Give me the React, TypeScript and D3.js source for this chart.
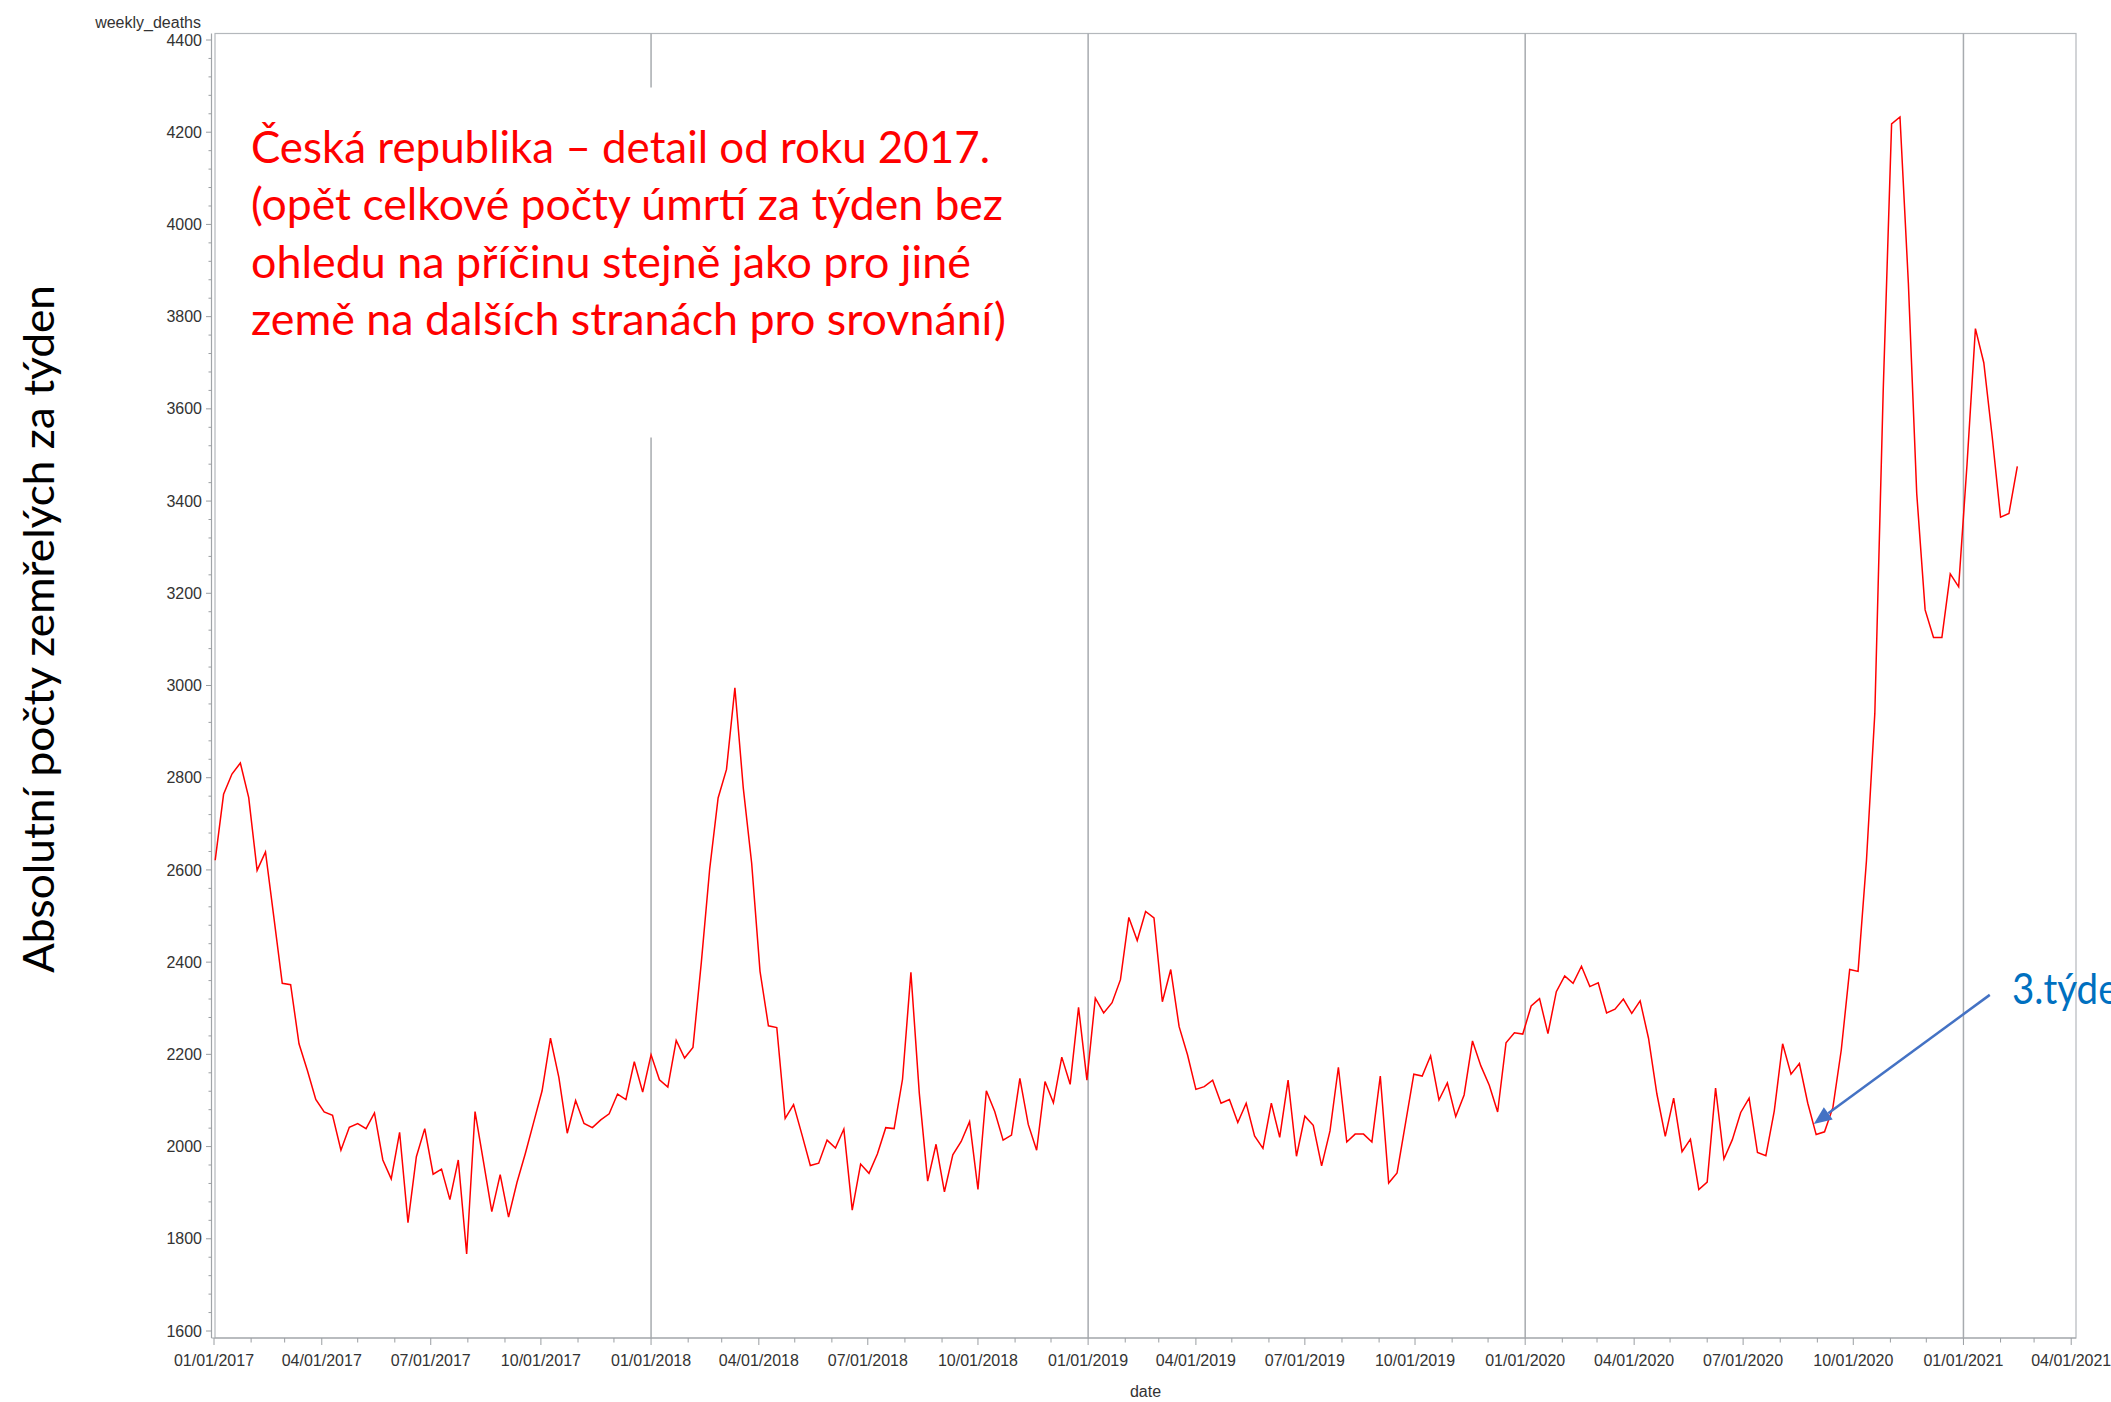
import React from 'react';
import * as d3 from 'd3';

// ---------- DATA ----------
const firstWeek = '2017-01-02';
const weeklyDeaths: number[] = [
  2621, 2764, 2808, 2832, 2757, 2599, 2639, 2497, 2354, 2351,
  2223, 2165, 2102, 2075, 2068, 1992, 2042, 2050, 2039, 2073,
  1971, 1930, 2031, 1835, 1978, 2039, 1940, 1951, 1885, 1971,
  1767, 2076, 1968, 1859, 1939, 1847, 1922, 1985, 2053, 2121,
  2235, 2150, 2029, 2100, 2050, 2041, 2058, 2071, 2114, 2102,
  2184, 2118, 2199, 2145, 2129, 2230, 2192, 2215, 2400, 2603,
  2756, 2818, 2995, 2778, 2615, 2380, 2262, 2258, 2061, 2091,
  2026, 1959, 1964, 2014, 1997, 2038, 1862, 1962, 1942, 1984,
  2041, 2039, 2146, 2378, 2116, 1925, 2005, 1902, 1982, 2011,
  2054, 1907, 2121, 2076, 2014, 2025, 2148, 2048, 1992, 2141,
  2095, 2194, 2135, 2302, 2144, 2322, 2290, 2312, 2362, 2497,
  2447, 2510, 2496, 2314, 2384, 2260, 2199, 2124, 2130, 2144,
  2094, 2102, 2052, 2094, 2023, 1996, 2094, 2020, 2144, 1979,
  2066, 2046, 1958, 2034, 2172, 2010, 2027, 2027, 2010, 2153,
  1921, 1943, 2050, 2157, 2153, 2197, 2101, 2138, 2065, 2112,
  2229, 2175, 2133, 2075, 2225, 2247, 2244, 2305, 2321, 2245,
  2336, 2370, 2354, 2391, 2347, 2355, 2290, 2298, 2320, 2289,
  2316, 2235, 2114, 2022, 2105, 1989, 2016, 1907, 1923, 2127,
  1973, 2015, 2074, 2105, 1987, 1980, 2077, 2223, 2157, 2180,
  2094, 2026, 2032, 2085, 2210, 2384, 2380, 2620, 2940, 3640,
  4218, 4233, 3873, 3416, 3164, 3104, 3104, 3242, 3214, 3480,
  3774, 3700, 3540, 3365, 3373, 3475,
];

const yTickValues = [1600, 1800, 2000, 2200, 2400, 2600, 2800, 3000, 3200, 3400, 3600, 3800, 4000, 4200, 4400];
const xTickLabels = [
  '01/01/2017', '04/01/2017', '07/01/2017', '10/01/2017',
  '01/01/2018', '04/01/2018', '07/01/2018', '10/01/2018',
  '01/01/2019', '04/01/2019', '07/01/2019', '10/01/2019',
  '01/01/2020', '04/01/2020', '07/01/2020', '10/01/2020',
  '01/01/2021', '04/01/2021',
];
const referenceLineDates = ['2018-01-01', '2019-01-01', '2020-01-01', '2021-01-01'];
const noteLines = [
  'Česká republika – detail od roku 2017.',
  '(opět celkové počty úmrtí za týden bez',
  'ohledu na příčinu stejně jako pro jiné',
  'země na dalších stranách pro srovnání)',
];
const noteLineWidths = [739, 752, 720, 755];
const yAxisTitle = 'Absolutní počty zemřelých za týden';
const yVariableLabel = 'weekly_deaths';
const xVariableLabel = 'date';
const arrowLabel = '3.týden';
const arrowFrom = { date: '2021-01-23', value: 2329 };
const arrowTo = { date: '2020-08-29', value: 2049 };

// ---------- SCALES ----------
const parseIso = d3.timeParse('%Y-%m-%d');
const parseUs = d3.timeParse('%m/%d/%Y');
const start = parseIso(firstWeek) as Date;
const series = weeklyDeaths.map((v, i) => ({ date: d3.timeDay.offset(start, i * 7), value: v }));

const W = 2111;
const H = 1402;
const wallLeft = 215;
const wallRight = 2076;
const wallTop = 33.5;
const wallBottom = 1338;
const axisX = 211.5;

const x = d3.scaleTime()
  .domain([new Date(2017, 0, 1), new Date(2021, 3, 5)])
  .range([214, 2076]);
const y = d3.scaleLinear().domain([1600, 4400]).range([1331, 40]);

const line = d3.line<{ date: Date; value: number }>()
  .x(d => x(d.date))
  .y(d => y(d.value));

const minorMonths = d3.timeMonth.range(new Date(2017, 0, 1), new Date(2021, 3, 2));
const minorY = d3.range(1600, 4401, 40);

export default function App() {
  const axisFont = '"Liberation Sans", Arial, sans-serif';
  const noteFont = 'Lato, "Open Sans", sans-serif';

  // arrow geometry from data coords
  const x0 = x(parseIso(arrowFrom.date) as Date);
  const y0 = y(arrowFrom.value);
  const x1 = x(parseIso(arrowTo.date) as Date);
  const y1 = y(arrowTo.value);
  const dx = x1 - x0, dy = y1 - y0;
  const len = Math.hypot(dx, dy);
  const ux = dx / len, uy = dy / len;
  const headL = 18, headW = 7.5;
  const bx = x1 - ux * headL, by = y1 - uy * headL;
  const nx = -uy, ny = ux;
  const head = `M${x1},${y1}L${bx + nx * headW},${by + ny * headW}L${bx - nx * headW},${by - ny * headW}Z`;

  return (
    <div style={{ position: 'absolute', left: 0, top: 0, width: W, height: H, background: '#fff' }}>
      <svg width={W} height={H} style={{ display: 'block' }}>
        <rect x={0} y={0} width={W} height={H} fill="#fff" />

        {/* wall frame */}
        <rect x={wallLeft} y={wallTop} width={wallRight - wallLeft} height={wallBottom - wallTop}
          fill="none" stroke="#b4b8bc" strokeWidth={1.2} />

        {/* reference lines */}
        {referenceLineDates.map(d => {
          const xx = x(parseIso(d) as Date);
          return <line key={d} x1={xx} x2={xx} y1={wallTop} y2={wallBottom} stroke="#a7abaf" strokeWidth={1.5} />;
        })}

        {/* y axis */}
        <line x1={axisX} x2={axisX} y1={wallTop} y2={wallBottom} stroke="#a0a4a8" strokeWidth={1.2} />
        {minorY.map(v => (
          <line key={'my' + v} x1={axisX - (v % 200 === 0 ? 5.5 : 3)} x2={axisX} y1={y(v)} y2={y(v)}
            stroke="#9a9ea2" strokeWidth={1} />
        ))}
        {yTickValues.map(v => (
          <text key={'yl' + v} x={202} y={y(v)} dy="0.35em" textAnchor="end" fontFamily={axisFont}
            fontSize={16} fill="#333">{v}</text>
        ))}
        <text x={201} y={27.5} textAnchor="end" fontFamily={axisFont} fontSize={16} fill="#333">{yVariableLabel}</text>

        {/* x axis */}
        <line x1={axisX} x2={wallRight} y1={wallBottom} y2={wallBottom} stroke="#a0a4a8" strokeWidth={1.2} />
        {minorMonths.map(m => (
          <line key={'mx' + m.getTime()} x1={x(m)} x2={x(m)} y1={wallBottom}
            y2={wallBottom + (m.getMonth() % 3 === 0 ? 7 : 4.5)} stroke="#9a9ea2" strokeWidth={1} />
        ))}
        {xTickLabels.map(l => (
          <text key={'xl' + l} x={x(parseUs(l) as Date)} y={1366} textAnchor="middle" fontFamily={axisFont}
            fontSize={16} fill="#333">{l}</text>
        ))}
        <text x={(wallLeft + wallRight) / 2} y={1397} textAnchor="middle" fontFamily={axisFont}
          fontSize={16} fill="#333">{xVariableLabel}</text>

        {/* data line */}
        <path d={line(series) || ''} fill="none" stroke="#ff0000" strokeWidth={1.5} strokeLinejoin="miter" />

        {/* note text box */}
        <rect x={240} y={87.5} width={780} height={350} fill="#fff" />
        {noteLines.map((t, i) => (
          <text key={'n' + i} x={251} y={162.7 + i * 57.4} fontFamily={noteFont} fontSize={45} fill="#ff0000"
            textLength={noteLineWidths[i]} lengthAdjust="spacingAndGlyphs">{t}</text>
        ))}

        {/* y axis title */}
        <text transform="translate(53.5,629) rotate(-90)" textAnchor="middle" fontFamily={noteFont} fontSize={43}
          fill="#000" textLength={688} lengthAdjust="spacingAndGlyphs">{yAxisTitle}</text>

        {/* arrow annotation */}
        <line x1={x0} y1={y0} x2={bx} y2={by} stroke="#4472c4" strokeWidth={2.5} />
        <path d={head} fill="#4472c4" />
        <text x={2012} y={1004} fontFamily={noteFont} fontSize={42} fill="#0070c0"
          textLength={128} lengthAdjust="spacingAndGlyphs">{arrowLabel}</text>
      </svg>
    </div>
  );
}
